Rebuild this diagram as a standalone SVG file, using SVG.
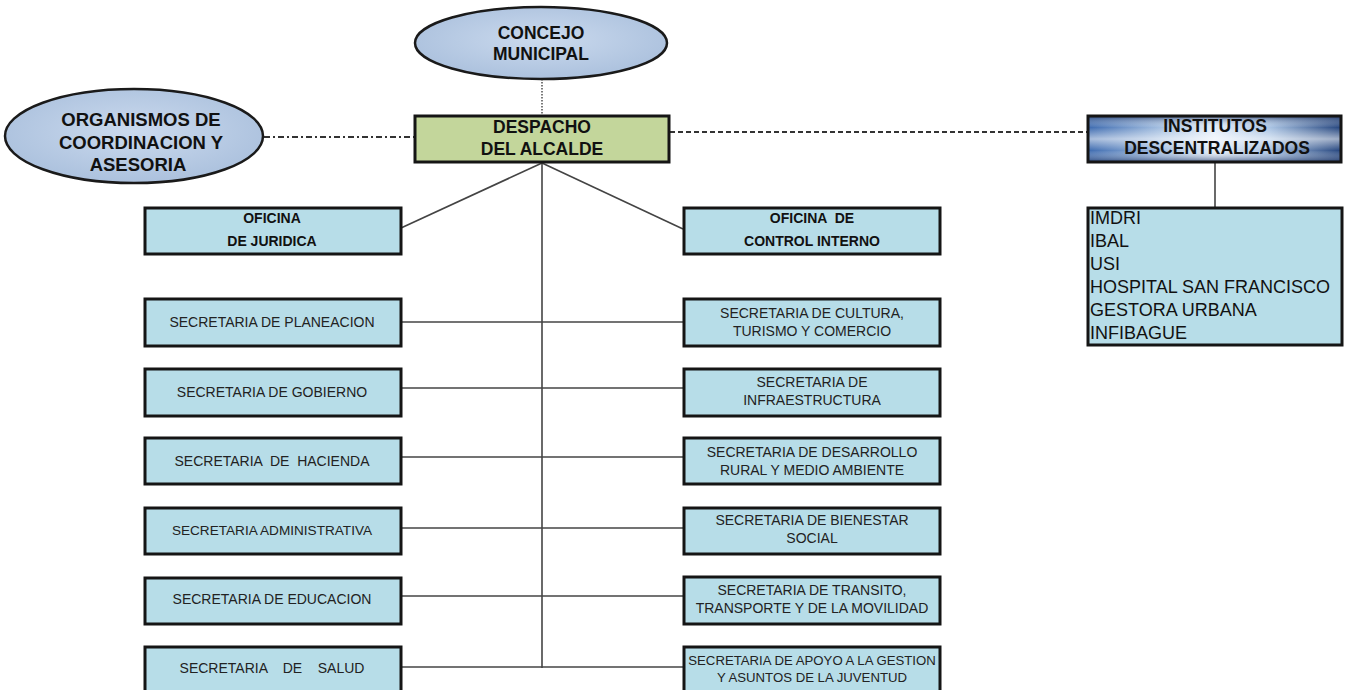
<svg xmlns="http://www.w3.org/2000/svg" width="1351" height="690" viewBox="0 0 1351 690">
<defs>
<radialGradient id="ellG" cx="50%" cy="45%" r="60%">
<stop offset="0" stop-color="#cbdaee"/>
<stop offset="1" stop-color="#a9bfdc"/>
</radialGradient>
<linearGradient id="instH" x1="0" y1="0" x2="1" y2="0">
<stop offset="0" stop-color="#3f6cb0"/>
<stop offset="0.3" stop-color="#a9c3e3"/>
<stop offset="0.5" stop-color="#e4edf8"/>
<stop offset="0.72" stop-color="#a9c3e3"/>
<stop offset="1" stop-color="#27477f"/>
</linearGradient>
<linearGradient id="instV" x1="0" y1="0" x2="0" y2="1">
<stop offset="0" stop-color="#1d3566" stop-opacity="0.7"/>
<stop offset="0.25" stop-color="#ffffff" stop-opacity="0"/>
<stop offset="0.5" stop-color="#ffffff" stop-opacity="0.55"/>
<stop offset="0.75" stop-color="#ffffff" stop-opacity="0"/>
<stop offset="1" stop-color="#1d3566" stop-opacity="0.7"/>
</linearGradient>
</defs>
<style>
text{font-family:"Liberation Sans",Arial,sans-serif;}
.box{fill:#b7dde8;stroke:#151515;stroke-width:3;}
.ell{fill:url(#ellG);stroke:#1a1a1a;stroke-width:2.5;}
.b{font-weight:bold;fill:#111;text-anchor:middle;}
.big{font-size:17.5px;}
.org{font-size:18.5px;}
.sm{font-size:14px;}
.n{font-weight:normal;fill:#222;text-anchor:middle;font-size:14px;}
.lst{font-size:18px;fill:#111;}
.con{stroke:#444;stroke-width:1.6;fill:none;}
</style>
<rect width="1351" height="690" fill="#ffffff"/>

<g id="connectors">
<line x1="542" y1="79" x2="542" y2="115" stroke="#222" stroke-width="1.2" stroke-dasharray="1.5 1.5"/>
<line x1="264" y1="137" x2="414" y2="137" stroke="#333" stroke-width="2" stroke-dasharray="6 3 2 3"/>
<line x1="670" y1="132" x2="1088" y2="132" stroke="#333" stroke-width="2" stroke-dasharray="5 3"/>
<line class="con" x1="1215" y1="162" x2="1215" y2="207"/>
<line class="con" x1="542" y1="163" x2="401" y2="228"/>
<line class="con" x1="542" y1="163" x2="683" y2="229"/>
<line class="con" x1="542" y1="163" x2="542" y2="668"/>
<line class="con" x1="401" y1="322" x2="683" y2="322" stroke="#777"/>
<line class="con" x1="401" y1="388" x2="683" y2="388"/>
<line class="con" x1="401" y1="457" x2="683" y2="457"/>
<line class="con" x1="401" y1="528" x2="683" y2="528"/>
<line class="con" x1="401" y1="596" x2="683" y2="596"/>
<line class="con" x1="401" y1="667" x2="683" y2="667"/>
</g>

<g id="concejo">
<ellipse class="ell" cx="541" cy="43" rx="126" ry="36"/>
<text class="b big" x="541" y="39">CONCEJO</text>
<text class="b big" x="541" y="60">MUNICIPAL</text>
</g>

<g id="organismos">
<ellipse class="ell" cx="134" cy="136" rx="129" ry="47"/>
<text class="b org" x="141" y="126">ORGANISMOS DE</text>
<text class="b org" x="141" y="149">COORDINACION Y</text>
<text class="b org" x="138" y="171">ASESORIA</text>
</g>

<g id="despacho">
<rect x="415" y="116" width="254" height="46" fill="#c3d69b" stroke="#151515" stroke-width="3"/>
<text class="b big" x="542" y="133">DESPACHO</text>
<text class="b big" x="542" y="155">DEL ALCALDE</text>
</g>

<g id="institutos">
<rect x="1088" y="116" width="253" height="46" fill="url(#instH)"/>
<rect x="1088" y="116" width="253" height="46" fill="url(#instV)" stroke="#151515" stroke-width="3"/>
<text class="b big" x="1215" y="132" fill="#0b1a38">INSTITUTOS</text>
<text class="b big" x="1217" y="154" fill="#0b1a38">DESCENTRALIZADOS</text>
</g>

<g id="institutos-lista">
<rect class="box" x="1088" y="208" width="254" height="137"/>
<text class="lst" x="1090" y="224">IMDRI</text>
<text class="lst" x="1090" y="247">IBAL</text>
<text class="lst" x="1090" y="270">USI</text>
<text class="lst" x="1090" y="293">HOSPITAL SAN FRANCISCO</text>
<text class="lst" x="1090" y="316">GESTORA URBANA</text>
<text class="lst" x="1090" y="339">INFIBAGUE</text>
</g>

<g id="juridica">
<rect class="box" x="145" y="208" width="256" height="46"/>
<text class="b sm" x="272" y="223">OFICINA</text>
<text class="b sm" x="272" y="246">DE JURIDICA</text>
</g>

<g id="control-interno">
<rect class="box" x="684" y="208" width="256" height="46"/>
<text class="b sm" x="812" y="223" xml:space="preserve">OFICINA  DE</text>
<text class="b sm" x="812" y="246">CONTROL INTERNO</text>
</g>

<g id="planeacion">
<rect class="box" x="145" y="299" width="256" height="47"/>
<text class="n" x="272" y="327">SECRETARIA DE PLANEACION</text>
</g>

<g id="gobierno">
<rect class="box" x="145" y="369" width="256" height="47"/>
<text class="n" x="272" y="397">SECRETARIA DE GOBIERNO</text>
</g>

<g id="hacienda">
<rect class="box" x="145" y="438" width="256" height="46"/>
<text class="n" x="272" y="466" xml:space="preserve">SECRETARIA  DE  HACIENDA</text>
</g>

<g id="administrativa">
<rect class="box" x="145" y="508" width="256" height="46"/>
<text class="n" x="272" y="535" style="font-size:13.6px">SECRETARIA ADMINISTRATIVA</text>
</g>

<g id="educacion">
<rect class="box" x="145" y="578" width="256" height="46"/>
<text class="n" x="272" y="604">SECRETARIA DE EDUCACION</text>
</g>

<g id="salud">
<rect class="box" x="145" y="647" width="256" height="48"/>
<text class="n" x="272" y="673" xml:space="preserve">SECRETARIA    DE    SALUD</text>
</g>

<g id="cultura">
<rect class="box" x="684" y="299" width="256" height="47"/>
<text class="n" x="812" y="318">SECRETARIA DE CULTURA,</text>
<text class="n" x="812" y="336">TURISMO Y COMERCIO</text>
</g>

<g id="infraestructura">
<rect class="box" x="684" y="369" width="256" height="47"/>
<text class="n" x="812" y="387">SECRETARIA DE</text>
<text class="n" x="812" y="405">INFRAESTRUCTURA</text>
</g>

<g id="desarrollo">
<rect class="box" x="684" y="438" width="256" height="46"/>
<text class="n" x="812" y="457">SECRETARIA DE DESARROLLO</text>
<text class="n" x="812" y="475">RURAL Y MEDIO AMBIENTE</text>
</g>

<g id="bienestar">
<rect class="box" x="684" y="508" width="256" height="46"/>
<text class="n" x="812" y="525">SECRETARIA DE BIENESTAR</text>
<text class="n" x="812" y="543">SOCIAL</text>
</g>

<g id="transito">
<rect class="box" x="684" y="577" width="256" height="47"/>
<text class="n" x="812" y="595">SECRETARIA DE TRANSITO,</text>
<text class="n" x="812" y="613">TRANSPORTE Y DE LA MOVILIDAD</text>
</g>

<g id="apoyo">
<rect class="box" x="684" y="647" width="256" height="48"/>
<text class="n" x="812" y="665" style="font-size:13.2px">SECRETARIA DE APOYO A LA GESTION</text>
<text class="n" x="812" y="682" style="font-size:13.2px">Y ASUNTOS DE LA JUVENTUD</text>
</g>
</svg>
